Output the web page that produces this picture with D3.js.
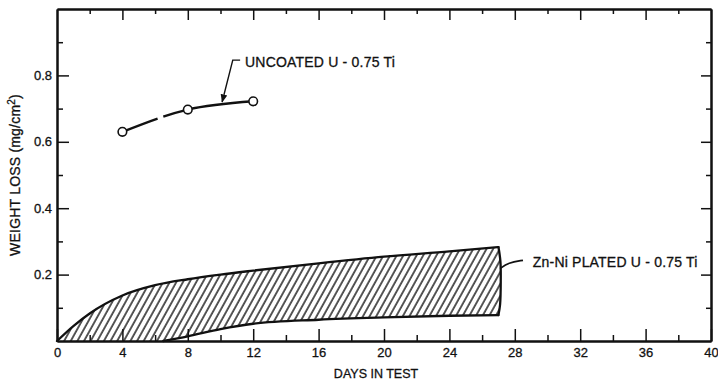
<!DOCTYPE html>
<html>
<head>
<meta charset="utf-8">
<script src="https://cdn.jsdelivr.net/npm/d3@7"></script>
<style>
  body { margin: 0; background: #fff; }
  svg { display: block; font-family: "Liberation Sans", Arial, sans-serif; }
  .axis path, .axis line { stroke: #111; }
  .axis text { font-size: 13px; fill: #111; stroke: #111; stroke-width: 0.3; }
  .lbl { font-size: 14px; fill: #111; stroke: #111; stroke-width: 0.3; letter-spacing: 0.2px; }
  .xt { font-size: 12.5px; letter-spacing: 0; }
</style>
</head>
<body>
<div id="chart"></div>
<script>
// data
const uncoatedDays = [4, 8, 12];
const uncoatedLoss = [0.63, 0.697, 0.722];

const upperDays = [0, 1, 2, 4, 6, 8, 10, 12, 16, 20, 24, 27];
const upperLoss = [0, 0.045, 0.083, 0.137, 0.168, 0.186, 0.2, 0.212, 0.234, 0.254, 0.27, 0.283];

const lowerDays = [6.5, 8, 10, 12, 16, 20, 24, 27];
const lowerLoss = [0, 0.014, 0.036, 0.052, 0.064, 0.071, 0.076, 0.078];

const xMajor = d3.range(0, 41, 4);
const xMinor = d3.range(2, 40, 4);
const yMajor = [0.2, 0.4, 0.6, 0.8];
const yMinor = [0.1, 0.3, 0.5, 0.7, 0.9];

// layout
const fullWidth = 718;
const fullHeight = 382;
const plot = { left: 57, right: 711, top: 9, bottom: 341 };

const svg = d3.select('#chart').append('svg')
  .attr('width', fullWidth)
  .attr('height', fullHeight);

const x = d3.scaleLinear().domain([0, 40]).range([plot.left, plot.right]);
const y = d3.scaleLinear().domain([0, 1]).range([plot.bottom, plot.top]);

// hatch pattern
const defs = svg.append('defs');
defs.append('pattern')
  .attr('id', 'hatch')
  .attr('patternUnits', 'userSpaceOnUse')
  .attr('width', 5.8)
  .attr('height', 10)
  .attr('patternTransform', 'rotate(29)')
  .append('line')
  .attr('x1', 1).attr('y1', 0)
  .attr('x2', 1).attr('y2', 10)
  .attr('stroke', '#111')
  .attr('stroke-width', 1.4);

// band (Zn-Ni plated)
const upper = upperDays.map((d, i) => [d, upperLoss[i]]);
const lower = lowerDays.map((d, i) => [d, lowerLoss[i]]);

const lineGen = d3.line()
  .x(d => x(d[0]))
  .y(d => y(d[1]))
  .curve(d3.curveMonotoneX);

const upperPath = lineGen(upper);
const lowerPath = lineGen(lower);
const lowerRev = lineGen(lower.slice().reverse());
const last = upper[upper.length - 1];
const lastLow = lower[lower.length - 1];

const edge = d3.line().x(d => x(d[0])).y(d => y(d[1])).curve(d3.curveCatmullRom);
const edgePts = [last, [last[0] + 0.12, 0.24], [last[0] + 0.14, 0.18], [last[0] + 0.1, 0.11], lastLow];

const bandPath = upperPath + edge(edgePts).replace(/^M/, 'L') + lowerRev.replace(/^M/, 'L') + 'Z';

svg.append('path')
  .attr('d', bandPath)
  .attr('fill', 'url(#hatch)')
  .attr('stroke', 'none');

[upperPath, lowerPath, edge(edgePts)].forEach(p => {
  svg.append('path')
    .attr('d', p)
    .attr('fill', 'none')
    .attr('stroke', '#111')
    .attr('stroke-width', 2.3)
    .attr('stroke-linecap', 'round');
});

// axes
svg.append('g').attr('class', 'axis')
  .attr('transform', `translate(0,${plot.bottom})`)
  .call(d3.axisBottom(x).tickValues(xMajor).tickSize(-12).tickSizeOuter(0).tickPadding(7));
svg.append('g').attr('class', 'axis')
  .attr('transform', `translate(0,${plot.bottom})`)
  .call(d3.axisBottom(x).tickValues(xMinor).tickSize(-6).tickSizeOuter(0).tickFormat(''));

svg.append('g').attr('class', 'axis')
  .attr('transform', `translate(0,${plot.top})`)
  .call(d3.axisTop(x).tickValues(xMajor.slice(1, -1)).tickSize(-11).tickSizeOuter(0).tickFormat(''));
svg.append('g').attr('class', 'axis')
  .attr('transform', `translate(0,${plot.top})`)
  .call(d3.axisTop(x).tickValues(xMinor).tickSize(-5).tickSizeOuter(0).tickFormat(''));

svg.append('g').attr('class', 'axis')
  .attr('transform', `translate(${plot.left},0)`)
  .call(d3.axisLeft(y).tickValues(yMajor).tickSize(-12).tickSizeOuter(0).tickPadding(5).tickFormat(d3.format('.1f')));
svg.append('g').attr('class', 'axis')
  .attr('transform', `translate(${plot.left},0)`)
  .call(d3.axisLeft(y).tickValues(yMinor).tickSize(-6).tickSizeOuter(0).tickFormat(''));

svg.append('g').attr('class', 'axis')
  .attr('transform', `translate(${plot.right},0)`)
  .call(d3.axisRight(y).tickValues(yMajor).tickSize(-10).tickSizeOuter(0).tickFormat(''));
svg.append('g').attr('class', 'axis')
  .attr('transform', `translate(${plot.right},0)`)
  .call(d3.axisRight(y).tickValues(yMinor).tickSize(-5).tickSizeOuter(0).tickFormat(''));

svg.selectAll('.axis path.domain').attr('stroke-width', 2);
svg.selectAll('.axis .tick line').attr('stroke-width', 1.5);

// uncoated series
const unc = uncoatedDays.map((d, i) => [d, uncoatedLoss[i]]);
const uncPath = svg.append('path')
  .attr('d', d3.line().x(d => x(d[0])).y(d => y(d[1])).curve(d3.curveMonotoneX)(unc))
  .attr('fill', 'none')
  .attr('stroke', '#111')
  .attr('stroke-width', 2.4);
// small break in the line between the first two points
const gapStart = x(6.3) - x(4);
uncPath.attr('stroke-dasharray', `${gapStart},6,1000`);

svg.selectAll('.pt')
  .data(unc)
  .join('circle')
  .attr('class', 'pt')
  .attr('cx', d => x(d[0]))
  .attr('cy', d => y(d[1]))
  .attr('r', 4.3)
  .attr('fill', '#fff')
  .attr('stroke', '#111')
  .attr('stroke-width', 1.6);

// annotations
defs.append('marker')
  .attr('id', 'arrow')
  .attr('viewBox', '0 0 10 10')
  .attr('refX', 9).attr('refY', 5)
  .attr('markerWidth', 6).attr('markerHeight', 6)
  .attr('orient', 'auto')
  .append('path')
  .attr('d', 'M0,1 L10,5 L0,9 Z')
  .attr('fill', '#111');

svg.append('path')
  .attr('d', d3.line()([[x(11.2), y(0.846)], [x(10.75), y(0.846)], [x(10.1), y(0.72)]]))
  .attr('fill', 'none')
  .attr('stroke', '#111')
  .attr('stroke-width', 1.4)
  .attr('marker-end', 'url(#arrow)');

svg.append('text')
  .attr('class', 'lbl')
  .attr('x', x(11.5))
  .attr('y', y(0.826))
  .text('UNCOATED U - 0.75 Ti');

svg.append('path')
  .attr('d', d3.line().curve(d3.curveBasis)([[x(27.1), y(0.218)], [x(27.6), y(0.236)], [x(28.5), y(0.243)]]))
  .attr('fill', 'none')
  .attr('stroke', '#111')
  .attr('stroke-width', 1.8);

svg.append('text')
  .attr('class', 'lbl')
  .attr('x', x(29.1))
  .attr('y', y(0.224))
  .text('Zn-Ni PLATED U - 0.75 Ti');

// axis titles
svg.append('text')
  .attr('class', 'lbl xt')
  .attr('x', 376)
  .attr('y', 378)
  .attr('text-anchor', 'middle')
  .text('DAYS IN TEST');

const yt = svg.append('text')
  .attr('class', 'lbl')
  .attr('transform', `translate(20,${y(0.5)}) rotate(-90)`)
  .attr('text-anchor', 'middle');
yt.append('tspan').text('WEIGHT LOSS (mg/cm');
yt.append('tspan').attr('dy', -5).attr('font-size', 10).text('2');
yt.append('tspan').attr('dy', 5).text(')');
</script>
</body>
</html>
